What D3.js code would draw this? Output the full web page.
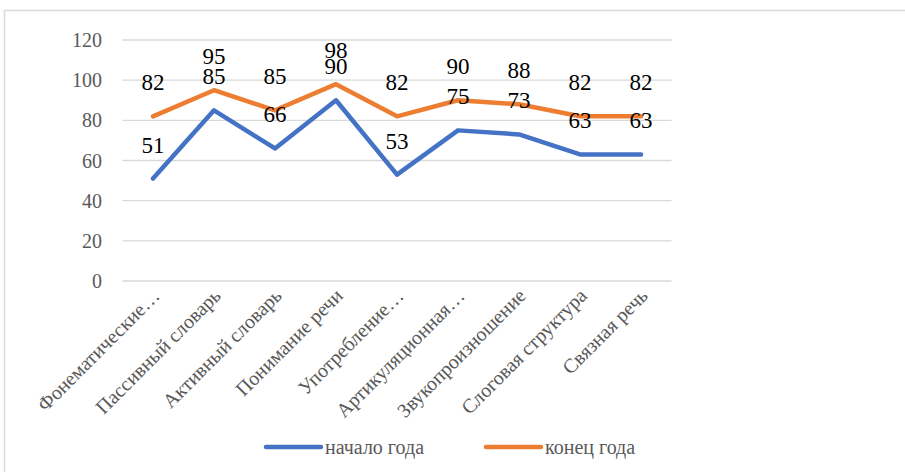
<!DOCTYPE html>
<html>
<head>
<meta charset="utf-8">
<script src="https://cdn.jsdelivr.net/npm/d3@7"></script>
<style>
  body { margin: 0; background: #fff; }
</style>
</head>
<body>
<script>
const categories = ["Фонематические…", "Пассивный словарь", "Активный словарь", "Понимание речи",
  "Употребление…", "Артикуляционная…", "Звукопроизношение", "Слоговая структура", "Связная речь"];
const startYear = [51, 85, 66, 90, 53, 75, 73, 63, 63];
const endYear = [82, 95, 85, 98, 82, 90, 88, 82, 82];
const seriesNames = ["начало года", "конец года"];
const yTicks = [0, 20, 40, 60, 80, 100, 120];

const full = { width: 905, height: 472 };
const plot = { left: 122.5, right: 671.5, top: 40, bottom: 281 };
const serif = "Liberation Serif";

const svg = d3.select("body").append("svg")
  .attr("width", full.width)
  .attr("height", full.height);

// outer frame (top + left visible)
svg.append("path")
  .attr("d", `M4.5,${full.height}V10.5H${full.width}`)
  .attr("fill", "none")
  .attr("stroke", "#d9d9d9")
  .attr("stroke-width", 1.5);

const x = d3.scaleBand().domain(categories).range([plot.left, plot.right]);
const y = d3.scaleLinear().domain([0, 120]).range([plot.bottom, plot.top]);
const cx = d => x(d) + x.bandwidth() / 2;

svg.append("g")
  .selectAll("line")
  .data(yTicks)
  .join("line")
  .attr("x1", plot.left).attr("x2", plot.right)
  .attr("y1", d => y(d)).attr("y2", d => y(d))
  .attr("stroke", "#d9d9d9")
  .attr("stroke-width", 1.3);

svg.append("g")
  .selectAll("text")
  .data(yTicks)
  .join("text")
  .attr("x", 102)
  .attr("y", d => y(d))
  .attr("dy", "0.35em")
  .attr("text-anchor", "end")
  .attr("font-family", serif)
  .attr("font-size", 20)
  .attr("fill", "#595959")
  .text(d => d);

svg.append("g")
  .selectAll("text")
  .data(categories)
  .join("text")
  .attr("transform", d => `translate(${cx(d) + 8},${297}) rotate(-45)`)
  .attr("text-anchor", "end")
  .attr("font-family", serif)
  .attr("font-size", 20)
  .attr("fill", "#595959")
  .text(d => d);

const series = [
  { name: seriesNames[0], values: startYear, color: "#4472c4" },
  { name: seriesNames[1], values: endYear, color: "#ed7d31" }
];

const line = d3.line()
  .x((d, i) => cx(categories[i]))
  .y(d => y(d));

svg.append("g")
  .selectAll("path")
  .data(series)
  .join("path")
  .attr("d", d => line(d.values))
  .attr("fill", "none")
  .attr("stroke", d => d.color)
  .attr("stroke-width", 4.5)
  .attr("stroke-linecap", "round")
  .attr("stroke-linejoin", "round");

series.forEach(s => {
  svg.append("g")
    .selectAll("text")
    .data(s.values)
    .join("text")
    .attr("x", (d, i) => cx(categories[i]))
    .attr("y", d => y(d) - 26)
    .attr("text-anchor", "middle")
    .attr("font-family", serif)
    .attr("font-size", 23)
    .attr("fill", "#000")
    .text(d => d);
});

// legend
const legendX = [266, 486];
const lg = svg.append("g")
  .selectAll("g")
  .data(series)
  .join("g")
  .attr("transform", (d, i) => `translate(${legendX[i]},447)`);
lg.append("line")
  .attr("x1", 0).attr("x2", 55)
  .attr("stroke", d => d.color)
  .attr("stroke-width", 4.5)
  .attr("stroke-linecap", "round");
lg.append("text")
  .attr("x", 59)
  .attr("y", 0)
  .attr("dy", "0.35em")
  .attr("font-family", serif)
  .attr("font-size", 20)
  .attr("fill", "#595959")
  .text(d => d.name);
</script>
</body>
</html>
